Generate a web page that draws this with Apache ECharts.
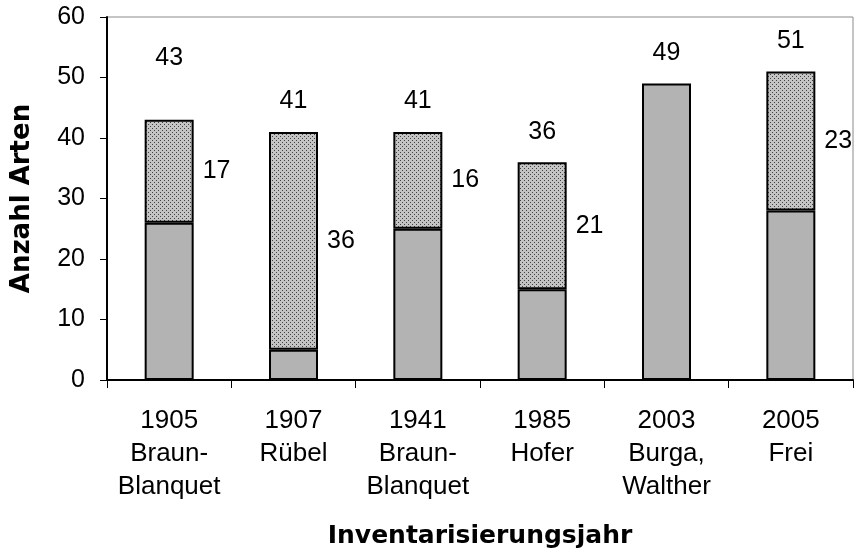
<!DOCTYPE html>
<html><head><meta charset="utf-8">
<script src="https://cdn.jsdelivr.net/npm/echarts@6/dist/echarts.min.js"></script>
<style>html,body{margin:0;padding:0;background:#fff}#c{width:856px;height:558px}</style>
</head><body><div id="c"></div>
<script>
var categories = ['1905\nBraun-\nBlanquet','1907\nRübel','1941\nBraun-\nBlanquet','1985\nHofer','2003\nBurga,\nWalther','2005\nFrei'];
var baseValues = [26, 5, 25, 15, 49, 28];
var upperValues = [17, 36, 16, 21, 0, 23];
var totals = [43, 41, 41, 36, 49, 51];
var yTicks = [0, 10, 20, 30, 40, 50, 60];

var pc = document.createElement('canvas');
pc.width = 4; pc.height = 4;
var g = pc.getContext('2d');
g.fillStyle = '#c4c4c4'; g.fillRect(0,0,4,4);
g.fillStyle = '#404040'; g.fillRect(0,0,1,1); g.fillRect(2,2,1,1);

var font = 'Liberation Sans, Arial, sans-serif';
var titleFont = 'DejaVu Sans, sans-serif';
var chart = echarts.init(document.getElementById('c'), null, {renderer:'canvas'});
chart.setOption({
  animation: false,
  grid: {left:107, right:3, top:17, bottom:178, show:true, borderColor:'#8a8a8a', borderWidth:1},
  xAxis: {
    type:'category', data: categories,
    name:'Inventarisierungsjahr', nameLocation:'middle', nameGap:144,
    nameTextStyle:{fontFamily:titleFont, fontSize:25, fontWeight:'bold', color:'#000'},
    axisLine:{lineStyle:{color:'#000', width:2}},
    axisTick:{show:true, interval:0, length:8, lineStyle:{color:'#000', width:1}, alignWithLabel:false},
    axisLabel:{interval:0, fontFamily:font, fontSize:26, color:'#000', lineHeight:33, margin:24}
  },
  yAxis: {
    type:'value', min:0, max:60, interval:10,
    name:'Anzahl Arten', nameLocation:'middle', nameGap:72,
    nameTextStyle:{fontFamily:titleFont, fontSize:26, fontWeight:'bold', color:'#000'},
    axisLine:{show:true, lineStyle:{color:'#000', width:2}},
    axisTick:{show:true, length:7, lineStyle:{color:'#000'}},
    splitLine:{show:false},
    axisLabel:{fontFamily:font, fontSize:25, color:'#000', margin:22,
      formatter:function(v){return yTicks.indexOf(v)>=0 ? String(v) : '';}}
  },
  series: [
    {type:'bar', stack:'a', barWidth:49, data: baseValues,
     itemStyle:{color:'#b3b3b3', borderColor:'#000', borderWidth:2}},
    {type:'bar', stack:'a', barWidth:49,
     data: upperValues.map(function(v){return v===0?null:v;}),
     itemStyle:{color:{image:pc, repeat:'repeat'}, borderColor:'#000', borderWidth:2},
     label:{show:true, position:'right', distance:9, fontFamily:font, fontSize:25, color:'#000'}},
    {type:'bar', stack:'a', barWidth:49, silent:true,
     data: totals.map(function(t,i){
       return {value:0, label:{distance: i===0 ? 49 : 18}};
     }),
     itemStyle:{color:'transparent', borderWidth:0},
     label:{show:true, position:'top', fontFamily:font, fontSize:25, color:'#000',
       formatter:function(p){return String(totals[p.dataIndex]);}}}
  ]
});
</script></body></html>
